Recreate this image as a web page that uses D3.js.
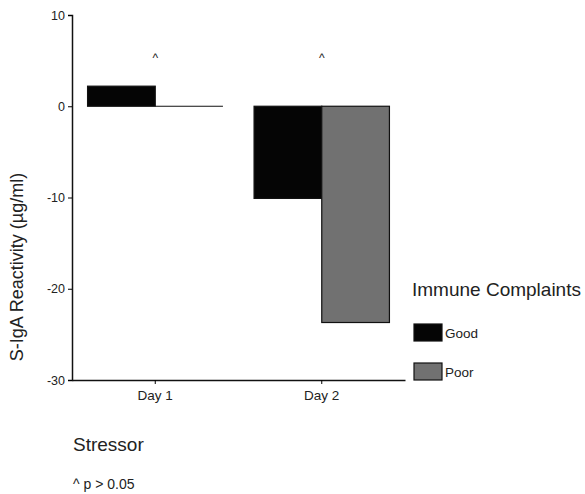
<!DOCTYPE html>
<html><head><meta charset="utf-8">
<script src="https://cdn.jsdelivr.net/npm/d3@7"></script>
<style>body{margin:0;background:#fff}text{font-family:"Liberation Sans",Arial,sans-serif;fill:#222}</style>
</head><body><svg id="c" width="585" height="494"></svg>
<script>
const categories = ["Day 1", "Day 2"];
const groups = ["Good", "Poor"];
const goodValues = [2.2, -10.1];
const poorValues = [0.0, -23.7];
const yTicks = [10, 0, -10, -20, -30];
const sigMarks = ["^", "^"];
const colors = {Good: "#050505", Poor: "#717171"};

const svg = d3.select("#c");
const x0 = d3.scaleBand().domain(categories).range([72, 405]).paddingInner(0).paddingOuter(0);
const x1 = d3.scaleBand().domain(groups).range([0, x0.bandwidth()]).paddingInner(0).paddingOuter(0.23);
const y = d3.scaleLinear().domain([-30, 10]).range([380, 15]);

const data = categories.map((c, i) => ({cat: c, vals: [{g: "Good", v: goodValues[i]}, {g: "Poor", v: poorValues[i]}]}));

// bars
const gBars = svg.append("g");
data.forEach(d => {
  d.vals.forEach(b => {
    const bx = x0(d.cat) + x1(b.g);
    const top = y(Math.max(0, b.v)), bot = y(Math.min(0, b.v));
    if (b.v === 0) {
      gBars.append("line").attr("x1", bx).attr("x2", bx + x1.bandwidth())
        .attr("y1", y(0)).attr("y2", y(0)).attr("stroke", "#111").attr("stroke-width", 1.2);
    } else {
      gBars.append("rect").attr("x", bx).attr("y", top).attr("width", x1.bandwidth())
        .attr("height", bot - top).attr("fill", colors[b.g]).attr("stroke", "#111").attr("stroke-width", 1.2);
    }
  });
});

// y axis
const ya = svg.append("g").attr("transform", "translate(72,0)")
  .call(d3.axisLeft(y).tickValues(yTicks).tickSize(4).tickFormat(d => String(d)));
ya.select(".domain").attr("stroke", "#111").attr("stroke-width", 1.5);
ya.selectAll("text").style("font-size", "12.5px").attr("fill", "#222");

// x axis
const xa = svg.append("g").attr("transform", "translate(0,380)")
  .call(d3.axisBottom(x0).tickSize(4).tickSizeOuter(0));
xa.select(".domain").attr("stroke", "#111").attr("stroke-width", 1.5);
xa.selectAll("text").style("font-size", "13.5px").attr("fill", "#222").attr("y", 8).attr("dy", "0.9em");

// significance marks
svg.selectAll(".sig").data(categories).enter().append("text")
  .attr("x", d => x0(d) + x0.bandwidth() / 2).attr("y", 62)
  .attr("text-anchor", "middle").style("font-size", "12px").text((d, i) => sigMarks[i]);

// axis titles
svg.append("text").attr("transform", "translate(23,267) rotate(-90)")
  .attr("text-anchor", "middle").style("font-size", "18px").text("S-IgA Reactivity (µg/ml)");
svg.append("text").attr("x", 73).attr("y", 451).style("font-size", "19px").text("Stressor");
svg.append("text").attr("x", 73).attr("y", 489).style("font-size", "14px").text("^ p > 0.05");

// legend
svg.append("text").attr("x", 412).attr("y", 296).style("font-size", "19px").text("Immune Complaints");
const lg = svg.append("g");
groups.forEach((g, i) => {
  const ly = 324 + i * 39;
  lg.append("rect").attr("x", 414).attr("y", ly).attr("width", 28).attr("height", 17)
    .attr("fill", colors[g]).attr("stroke", "#111").attr("stroke-width", 1.2);
  lg.append("text").attr("x", 445).attr("y", ly + 14).style("font-size", "13.5px").text(g);
});
</script></body></html>
